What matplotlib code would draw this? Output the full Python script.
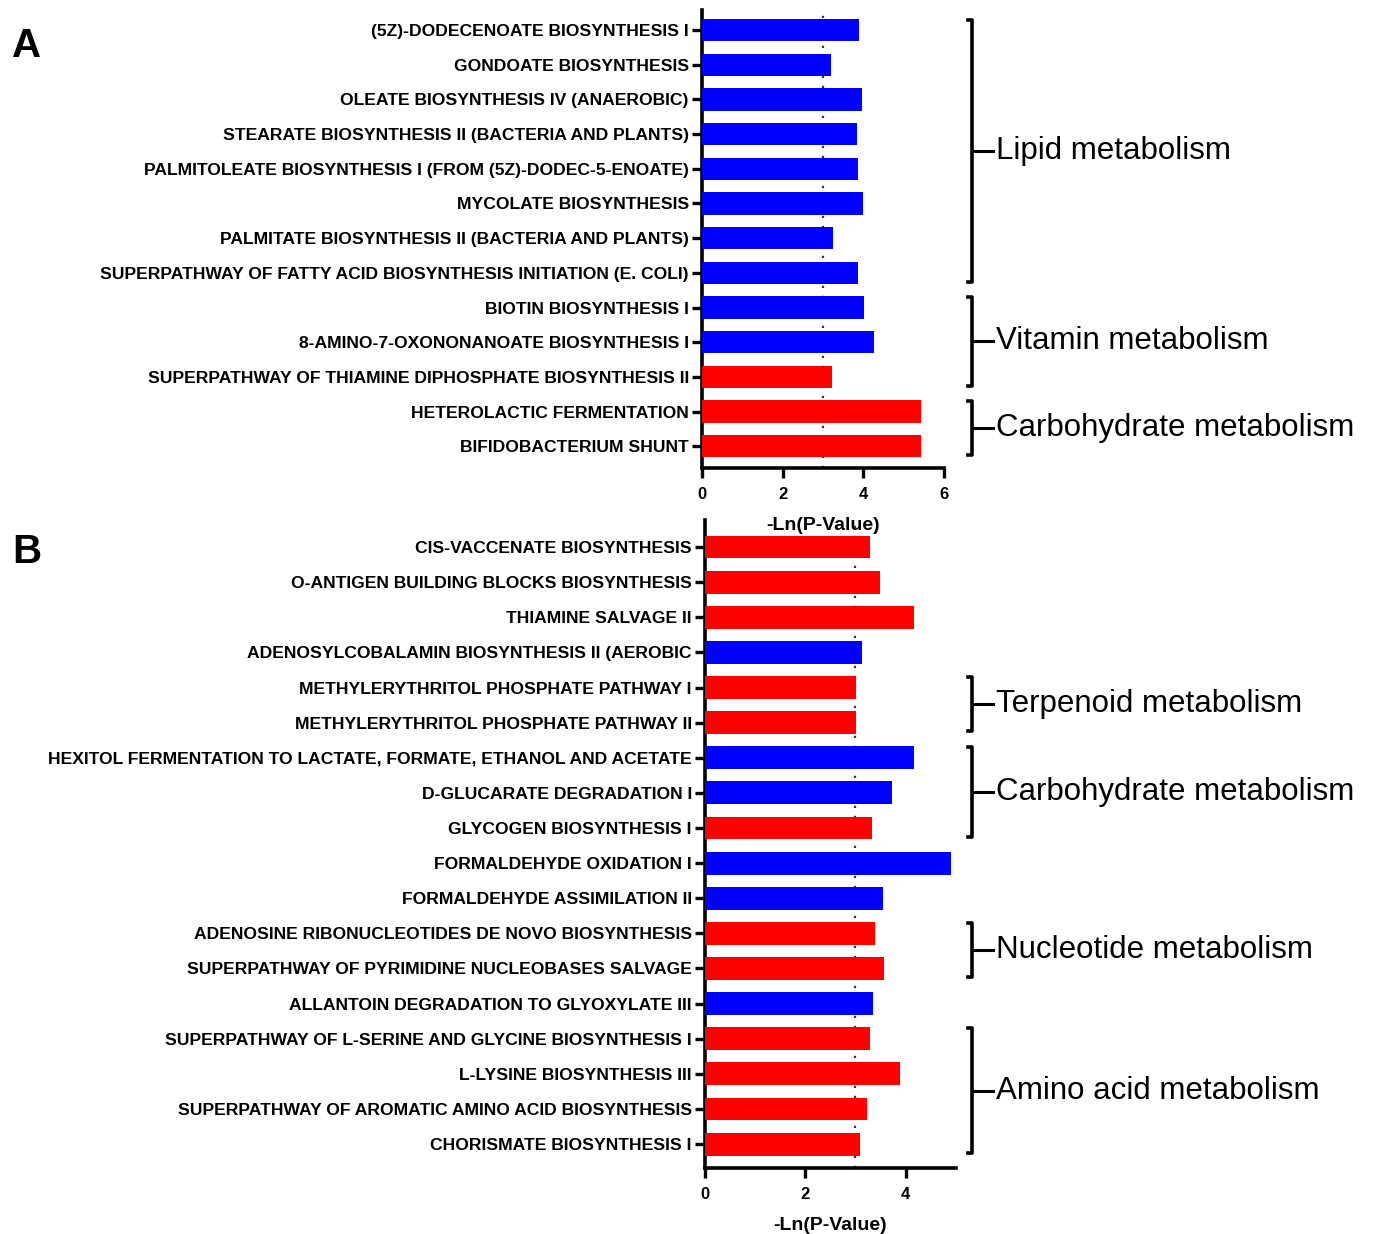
import matplotlib.pyplot as plt
from matplotlib.lines import Line2D

plt.rcParams['font.family'] = ['Liberation Sans', 'DejaVu Sans']

# panel A data
a_labels = [
    "(5Z)-DODECENOATE BIOSYNTHESIS I",
    "GONDOATE BIOSYNTHESIS",
    "OLEATE BIOSYNTHESIS IV (ANAEROBIC)",
    "STEARATE BIOSYNTHESIS II (BACTERIA AND PLANTS)",
    "PALMITOLEATE BIOSYNTHESIS I (FROM (5Z)-DODEC-5-ENOATE)",
    "MYCOLATE BIOSYNTHESIS",
    "PALMITATE BIOSYNTHESIS II (BACTERIA AND PLANTS)",
    "SUPERPATHWAY OF FATTY ACID BIOSYNTHESIS INITIATION (E. COLI)",
    "BIOTIN BIOSYNTHESIS I",
    "8-AMINO-7-OXONONANOATE BIOSYNTHESIS I",
    "SUPERPATHWAY OF THIAMINE DIPHOSPHATE BIOSYNTHESIS II",
    "HETEROLACTIC FERMENTATION",
    "BIFIDOBACTERIUM SHUNT",
]
a_values = [3.90, 3.21, 3.98, 3.85, 3.88, 4.00, 3.26, 3.86, 4.03, 4.27, 3.23, 5.42, 5.42]
a_dir = ["b"] * 10 + ["r"] * 3
a_groups = [("Lipid metabolism", 0, 7), ("Vitamin metabolism", 8, 10),
            ("Carbohydrate metabolism", 11, 12)]

# panel B data
b_labels = [
    "CIS-VACCENATE BIOSYNTHESIS",
    "O-ANTIGEN BUILDING BLOCKS BIOSYNTHESIS",
    "THIAMINE SALVAGE II",
    "ADENOSYLCOBALAMIN BIOSYNTHESIS II (AEROBIC",
    "METHYLERYTHRITOL PHOSPHATE PATHWAY I",
    "METHYLERYTHRITOL PHOSPHATE PATHWAY II",
    "HEXITOL FERMENTATION TO LACTATE, FORMATE, ETHANOL AND ACETATE",
    "D-GLUCARATE DEGRADATION I",
    "GLYCOGEN BIOSYNTHESIS I",
    "FORMALDEHYDE OXIDATION I",
    "FORMALDEHYDE ASSIMILATION II",
    "ADENOSINE RIBONUCLEOTIDES DE NOVO BIOSYNTHESIS",
    "SUPERPATHWAY OF PYRIMIDINE NUCLEOBASES SALVAGE",
    "ALLANTOIN DEGRADATION TO GLYOXYLATE III",
    "SUPERPATHWAY OF L-SERINE AND GLYCINE BIOSYNTHESIS I",
    "L-LYSINE BIOSYNTHESIS III",
    "SUPERPATHWAY OF AROMATIC AMINO ACID BIOSYNTHESIS",
    "CHORISMATE BIOSYNTHESIS I",
]
b_values = [3.29, 3.48, 4.16, 3.13, 3.02, 3.02, 4.16, 3.73, 3.33, 4.91,
            3.54, 3.38, 3.57, 3.35, 3.29, 3.89, 3.23, 3.09]
b_dir = ["r", "r", "r", "b", "r", "r", "b", "b", "r", "b",
         "b", "r", "r", "b", "r", "r", "r", "r"]
b_groups = [("Terpenoid metabolism", 4, 5), ("Carbohydrate metabolism", 6, 8),
            ("Nucleotide metabolism", 11, 12), ("Amino acid metabolism", 14, 17)]

colors = {"b": "#0000FF", "r": "#FF0000"}
threshold = 3.0

fig = plt.figure(figsize=(13.74, 12.34), dpi=100)


def panel(rect, labels, values, dirs, groups, xmax, xticks, letter, letter_y, pads):
    ax = fig.add_axes(rect)
    ax.set_facecolor("none")
    n = len(labels)
    ys = list(range(n))
    ax.barh(ys, values, height=0.65, color=[colors[d] for d in dirs], zorder=3)
    ax.axvline(threshold, color="#333333", ls=(0, (1, 3.5)), lw=1.6, zorder=1)
    ax.set_ylim(n - 1 + pads[1], -pads[0])
    ax.set_xlim(0, xmax)
    ax.set_yticks(ys)
    ax.set_yticklabels(labels, fontsize=12.6, fontweight="bold")
    ax.set_xticks(xticks)
    ax.set_xticklabels([str(t) for t in xticks], fontsize=12, fontweight="bold")
    ax.set_xlabel("-Ln(P-Value)", fontsize=14, fontweight="bold", labelpad=11)
    for s in ["top", "right"]:
        ax.spines[s].set_visible(False)
    for s in ["left", "bottom"]:
        ax.spines[s].set_linewidth(2.6)
    ax.tick_params(axis="both", width=2.4, length=7.5, pad=2)
    ax.tick_params(axis="x", pad=6)
    # group brackets on the right
    bx, tx = 0.7074, 0.7227
    tr = fig.transFigure
    for name, i0, i1 in groups:
        y0 = tr.inverted().transform(ax.transData.transform((0, i0 - 0.3)))[1]
        y1 = tr.inverted().transform(ax.transData.transform((0, i1 + 0.25)))[1]
        ym = (y0 + y1) / 2
        fig.add_artist(Line2D([bx - 0.003, bx, bx, bx - 0.003], [y0, y0, y1, y1],
                              transform=tr, color="black", lw=2.6))
        fig.add_artist(Line2D([bx, tx], [ym, ym], transform=tr, color="black", lw=2.2))
        fig.text(tx + 0.002, ym, name, fontsize=22.5, va="center", ha="left")
    fig.text(0.009, letter_y, letter, fontsize=29, fontweight="bold", va="center")
    return ax


panel([0.5109, 0.6207, 0.1761, 0.3712], a_labels, a_values, a_dir, a_groups,
      6, [0, 2, 4, 6], "A", 0.963, (0.58, 0.63))
panel([0.5131, 0.0535, 0.1825, 0.5251], b_labels, b_values, b_dir, b_groups,
      5, [0, 2, 4], "B", 0.553, (0.77, 0.68))

plt.savefig("out.png", dpi=100)
